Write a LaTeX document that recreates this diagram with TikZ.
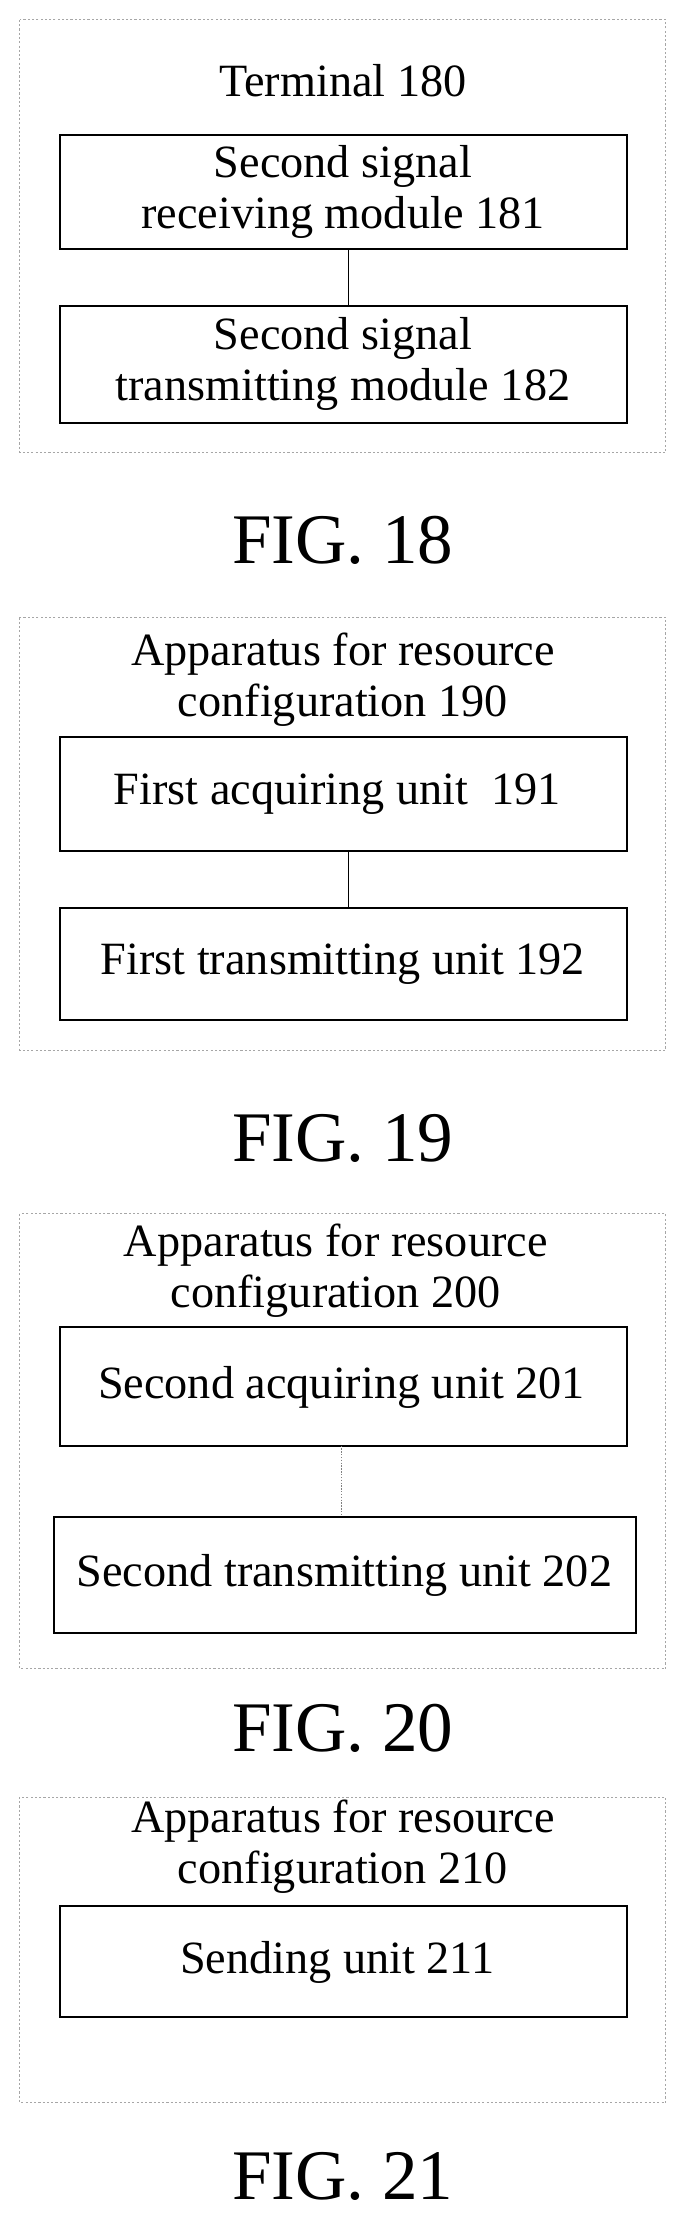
\documentclass[tikz,border=0pt]{standalone}
\usepackage{fontspec}
\setmainfont{Liberation Serif}
\usetikzlibrary{calc}
\begin{document}
\begin{tikzpicture}[x=1pt,y=-1pt,
  frame/.style={draw=gray!70,dash pattern=on 1.5pt off 1.5pt,line width=0.6pt},
  unit/.style={draw,line width=1.4pt},
  txt/.style={align=center,font=\fontsize{32.5}{36}\selectfont,inner sep=0pt},
  fig/.style={font=\fontsize{50}{54}\selectfont,inner sep=0pt}]
\useasboundingbox (0,0) rectangle (482,1566);
% FIG. 18
\draw [frame] (14,14) rectangle (468,318);
\node [txt] (t180) at (241,57) {Terminal 180};
\draw [unit] (42,95) rectangle (441,175);
\node [txt] (m181) at (241,135) {Second signal\\receiving module 181};
\draw [unit] (42,215) rectangle (441,297);
\node [txt] (m182) at (241,256) {Second signal\\transmitting module 182};
\coordinate (a181) at (245,175);
\coordinate (a182) at (245,215);
\draw [line width=1.2pt] (a181) -- (a182);
\node [fig] (f18) at (241,380) {FIG. 18};
% FIG. 19
\draw [frame] (14,434) rectangle (468,738);
\node [txt] (t190) at (241,478) {Apparatus for resource\\configuration 190};
\draw [unit] (42,518) rectangle (441,598);
\node [txt] (u191) at (237,558) {First acquiring unit\ \ 191};
\draw [unit] (42,638) rectangle (441,717);
\node [txt] (u192) at (241,678) {First transmitting unit 192};
\coordinate (a191) at (245,598);
\coordinate (a192) at (245,638);
\draw [line width=1.2pt] (a191) -- (a192);
\node [fig] (f19) at (241,800) {FIG. 19};
% FIG. 20
\draw [frame] (14,853) rectangle (468,1173);
\node [txt] (t200) at (236,893) {Apparatus for resource\\configuration 200};
\draw [unit] (42,933) rectangle (441,1016);
\node [txt] (u201) at (240,975) {Second acquiring unit 201};
\draw [unit] (38,1066) rectangle (447,1148);
\node [txt] (u202) at (242,1107) {Second transmitting unit 202};
\coordinate (a201) at (240,1016);
\coordinate (a202) at (240,1066);
\draw [gray,dash pattern=on 1pt off 1pt,line width=0.6pt] (a201) -- (a202);
\node [fig] (f20) at (241,1215) {FIG. 20};
% FIG. 21
\draw [frame] (14,1263) rectangle (468,1478);
\node [txt] (t210) at (241,1298) {Apparatus for resource\\configuration 210};
\draw [unit] (42,1340) rectangle (441,1418);
\node [txt] (u211) at (237,1379) {Sending unit 211};
\node [fig] (f21) at (241,1530) {FIG. 21};
\end{tikzpicture}
\end{document}
